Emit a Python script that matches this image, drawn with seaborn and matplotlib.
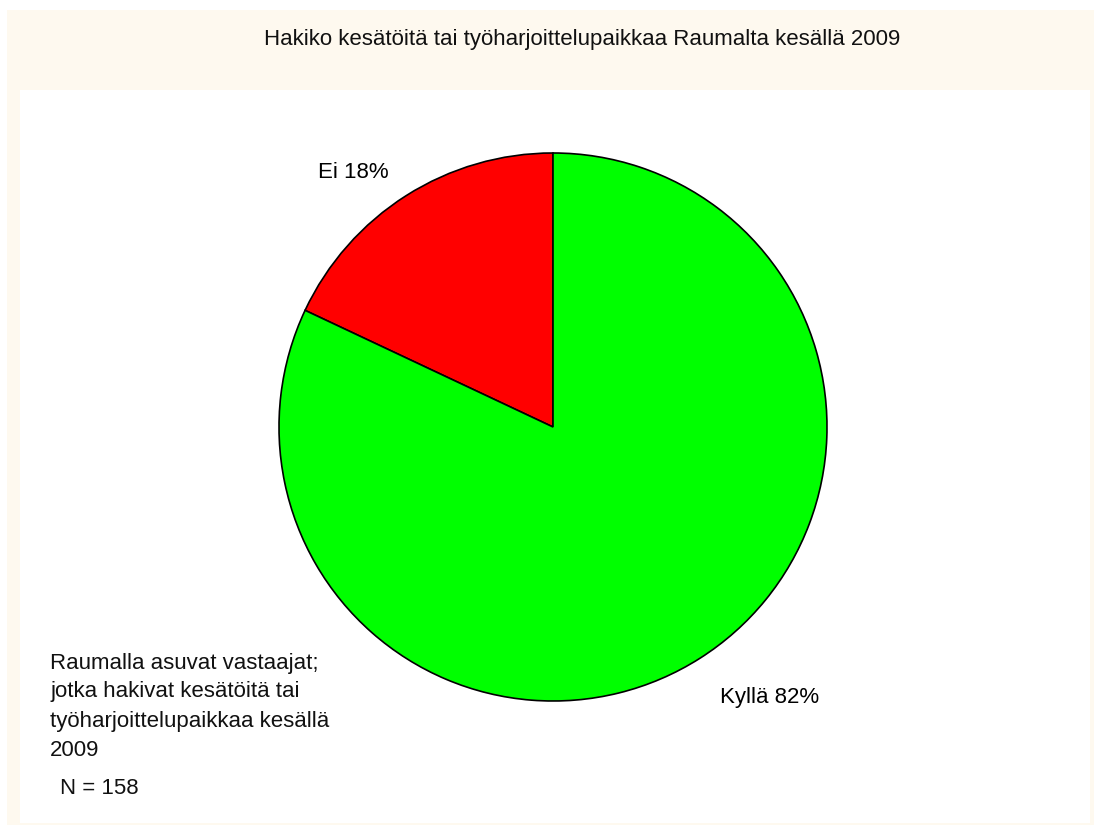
import matplotlib
matplotlib.use("Agg")
import matplotlib.pyplot as plt
from matplotlib.patches import Rectangle
import seaborn as sns

# Survey answers
categories = ["Ei", "Kyllä"]
percentages = [18, 82]
slice_colors = ["#FF0000", "#00FF00"]
title_text = "Hakiko kesätöitä tai työharjoittelupaikkaa Raumalta kesällä 2009"
note_lines = ["Raumalla asuvat vastaajat;",
              "jotka hakivat kesätöitä tai",
              "työharjoittelupaikkaa kesällä",
              "2009"]
n_text = "N = 158"

sns.set_theme(style="white")
plt.rcParams["font.family"] = ["Liberation Sans", "DejaVu Sans"]

W, H = 1094, 825
fig = plt.figure(figsize=(W / 100, H / 100), dpi=100)
fig.patch.set_facecolor("white")

# Cream outer panel and white plot area
fig.patches.append(Rectangle((7 / W, 0), 1 - 7 / W, 1 - 10 / H,
                             transform=fig.transFigure, facecolor="#FEF9EF",
                             edgecolor="none", zorder=-2))
fig.patches.append(Rectangle((20 / W, 2 / H), 1070 / W, (823 - 90) / H,
                             transform=fig.transFigure, facecolor="white",
                             edgecolor="none", zorder=-1))

fig.text(582 / W, 1 - 40 / H, title_text, ha="center", va="center",
         fontsize=16, color="#111111")

# Pie axes
cx, cy, r = 553, 427, 274
ax = fig.add_axes([(cx - r) / W, 1 - (cy + r) / H, 2 * r / W, 2 * r / H])
ax.set_zorder(5)
ax.set_facecolor("none")
wedges, _ = ax.pie(percentages, colors=slice_colors, startangle=90,
                   counterclock=True, radius=1.0,
                   wedgeprops=dict(edgecolor="black", linewidth=1.2))
for w in wedges:
    w.set_clip_on(False)
ax.set_xlim(-1.0, 1.0)
ax.set_ylim(-1.0, 1.0)
ax.set_aspect("equal")
ax.axis("off")

label_pos = {"Ei": (353, 172), "Kyllä": (770, 698)}
for cat, pct in zip(categories, percentages):
    px, py = label_pos[cat]
    fig.text(px / W, 1 - py / H, f"{cat} {pct}%", ha="center", va="center",
             fontsize=16, color="black")

for i, line in enumerate(note_lines):
    fig.text(50 / W, 1 - (663 + 29 * i) / H, line, ha="left", va="center",
             fontsize=16, color="#111111")
fig.text(60 / W, 1 - 789 / H, n_text, ha="left", va="center",
         fontsize=16, color="#111111")

fig.savefig("out.png", dpi=100, facecolor=fig.get_facecolor())
